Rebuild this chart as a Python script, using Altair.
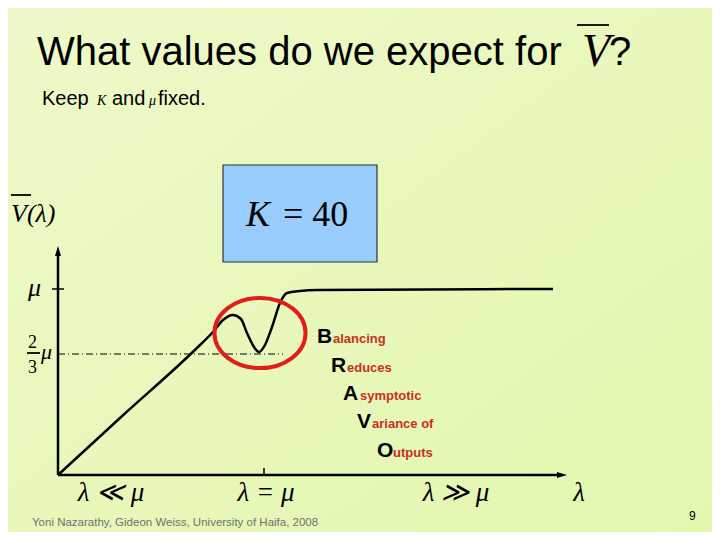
import altair as alt
import pandas as pd

# ---------------- data (in page pixels) ----------------
curve_x = [58, 120, 200, 213, 223, 233, 241, 247, 254, 259, 265, 272, 280, 287, 300, 317, 553]
curve_y = [475, 418, 345, 332, 320, 315, 319, 333, 347, 352, 345, 327, 303, 293, 291, 290, 289]

title_text = ["What values do we expect for", "?"]
title_x = [37, 609]
title_y = [65, 65]

sub_text = ["Keep", "and", "fixed."]
sub_x = [42, 112, 158]
sub_y = [105, 105, 105]

math_small_text = ["K", "μ"]
math_small_x = [97, 149]
math_small_y = [105, 105]

ylab_text = ["V(λ)", "μ"]
ylab_x = [11, 28]
ylab_y = [222, 296]

frac_text = ["2", "3"]
frac_x = [28, 28]
frac_y = [348, 373]

xlab_text = ["λ ≪ μ", "λ = μ", "λ ≫ μ", "λ"]
xlab_x = [111, 266, 456, 579]
xlab_y = [501, 501, 501, 501]

box_text = ["K", "= 40"]
box_text_x = [246, 283]
box_text_style = ["italic", "normal"]

big_letters = ["B", "R", "A", "V", "O"]
big_x = [317, 331, 343, 357, 377]
small_words = ["alancing", "educes", "symptotic", "ariance of", "utputs"]
small_x = [333, 347, 360, 372, 393]
bravo_y = [343, 372, 400, 428, 457]

footer_text = "Yoni Nazarathy, Gideon Weiss, University of Haifa, 2008"
page_number = "9"

# ---------------- scales: data units are page pixels ----------------
W, H = 704, 524
X0, Y0 = 8, 8
xs = alt.Scale(domain=[X0, X0 + W], nice=False, zero=False)
ys = alt.Scale(domain=[Y0, Y0 + H], nice=False, zero=False, reverse=True)


def X(f="x"):
    return alt.X(f, type="quantitative", scale=xs, axis=None)


def Y(f="y"):
    return alt.Y(f, type="quantitative", scale=ys, axis=None)


def texts(t, x, y, size, font="Liberation Sans", color="black", style="normal",
          weight="normal", align="left"):
    df = pd.DataFrame({"t": t, "x": x, "y": y})
    return alt.Chart(df).mark_text(
        font=font, fontSize=size, color=color, fontStyle=style, fontWeight=weight,
        align=align, baseline="alphabetic"
    ).encode(x=X(), y=Y(), text="t:N")


def hrules(x, x2, y, width=2, color="black", dash=None):
    df = pd.DataFrame({"x": x, "x2": x2, "y": y})
    kw = dict(color=color, strokeWidth=width)
    if dash:
        kw["strokeDash"] = dash
    return alt.Chart(df).mark_rule(**kw).encode(x=X(), x2="x2:Q", y=Y())


def vrules(x, y, y2, width=2, color="black"):
    df = pd.DataFrame({"x": x, "y": y, "y2": y2})
    return alt.Chart(df).mark_rule(color=color, strokeWidth=width).encode(
        x=X(), y=Y(), y2="y2:Q")


bg = alt.Chart(pd.DataFrame({"a": [0]})).mark_rect(
    fill=alt.LinearGradient(
        gradient="linear",
        stops=[alt.GradientStop(color="#EEF9C9", offset=0),
               alt.GradientStop(color="#E2F7AE", offset=1)],
        x1=0, x2=1, y1=0, y2=1),
).encode(x=alt.value(0), x2=alt.value(W), y=alt.value(0), y2=alt.value(H))

box = alt.Chart(pd.DataFrame({"x": [223], "x2": [377], "y": [165], "y2": [262]})).mark_rect(
    fill="#99CCFF", stroke="#333333", strokeWidth=1.2
).encode(x=X(), x2="x2:Q", y=Y(), y2="y2:Q")

curve = alt.Chart(pd.DataFrame({"x": curve_x, "y": curve_y, "i": range(len(curve_x))})).mark_line(
    color="black", strokeWidth=2.5, interpolate="monotone"
).encode(x=X(), y=Y(), order="i:Q")

ellipse = alt.Chart(pd.DataFrame({"x": [260], "y": [333]})).mark_point(
    shape="M -1 0 A 1 0.77 0 1 1 1 0 A 1 0.77 0 1 1 -1 0 Z",
    size=8300, filled=False, stroke="#E01E1A", strokeWidth=4, opacity=1
).encode(x=X(), y=Y())

arrows_up = alt.Chart(pd.DataFrame({"x": [58], "y": [251]})).mark_point(
    shape="M 0 -1 L 0.6 1 L -0.6 1 Z", size=100, filled=True, color="black", opacity=1
).encode(x=X(), y=Y())
arrows_right = alt.Chart(pd.DataFrame({"x": [562], "y": [475]})).mark_point(
    shape="M 1 0 L -1 0.6 L -1 -0.6 Z", size=100, filled=True, color="black", opacity=1
).encode(x=X(), y=Y())

axes_v = vrules([58], [475], [253], width=2.5)
axes_h = hrules([58], [560], [475], width=2.5)
ticks_h = hrules([52], [64], [289], width=1.5)
ticks_v = vrules([264], [468], [475], width=1.5)
overlines = hrules([577, 11, 27], [609, 31, 40], [25, 195, 353], width=1.8)
dashdot = hrules([58], [283], [354], width=1, dash=[7, 3, 1, 3])

layers = [
    bg, box, dashdot, axes_v, axes_h, ticks_h, ticks_v, arrows_up, arrows_right,
    curve, ellipse, overlines,
    texts(title_text, title_x, title_y, 40),
    texts(["V"], [582], [66], 46, font="Liberation Serif", style="italic"),
    texts(sub_text, sub_x, sub_y, 20),
    texts(math_small_text, math_small_x, math_small_y, 14, font="Liberation Serif", style="italic"),
    texts(ylab_text, ylab_x, ylab_y, 26, font="Liberation Serif", style="italic"),
    texts(frac_text, frac_x, frac_y, 18, font="Liberation Serif"),
    texts(["μ"], [41], [359], 22, font="Liberation Serif", style="italic"),
    texts([box_text[0]], [box_text_x[0]], [226], 36, font="Liberation Serif", style=box_text_style[0]),
    texts([box_text[1]], [box_text_x[1]], [226], 36, font="Liberation Serif", style=box_text_style[1]),
    texts(xlab_text, xlab_x, xlab_y, 27, font="Liberation Serif", style="italic", align="center"),
    texts(big_letters, big_x, bravo_y, 21, weight="bold"),
    texts(small_words, small_x, bravo_y, 13, weight="bold", color="#C8301E"),
    texts([footer_text], [32], [526], 11.5, color="#707070"),
    texts([page_number], [689], [520], 12),
]

chart = alt.layer(*layers).properties(
    width=W, height=H,
    autosize=alt.AutoSizeParams(type="fit", contains="padding"),
    padding=0,
    background="#E8F8BC",
).configure_view(stroke=None)

chart.save("out.html", embed_options={"renderer": "svg", "actions": False})
